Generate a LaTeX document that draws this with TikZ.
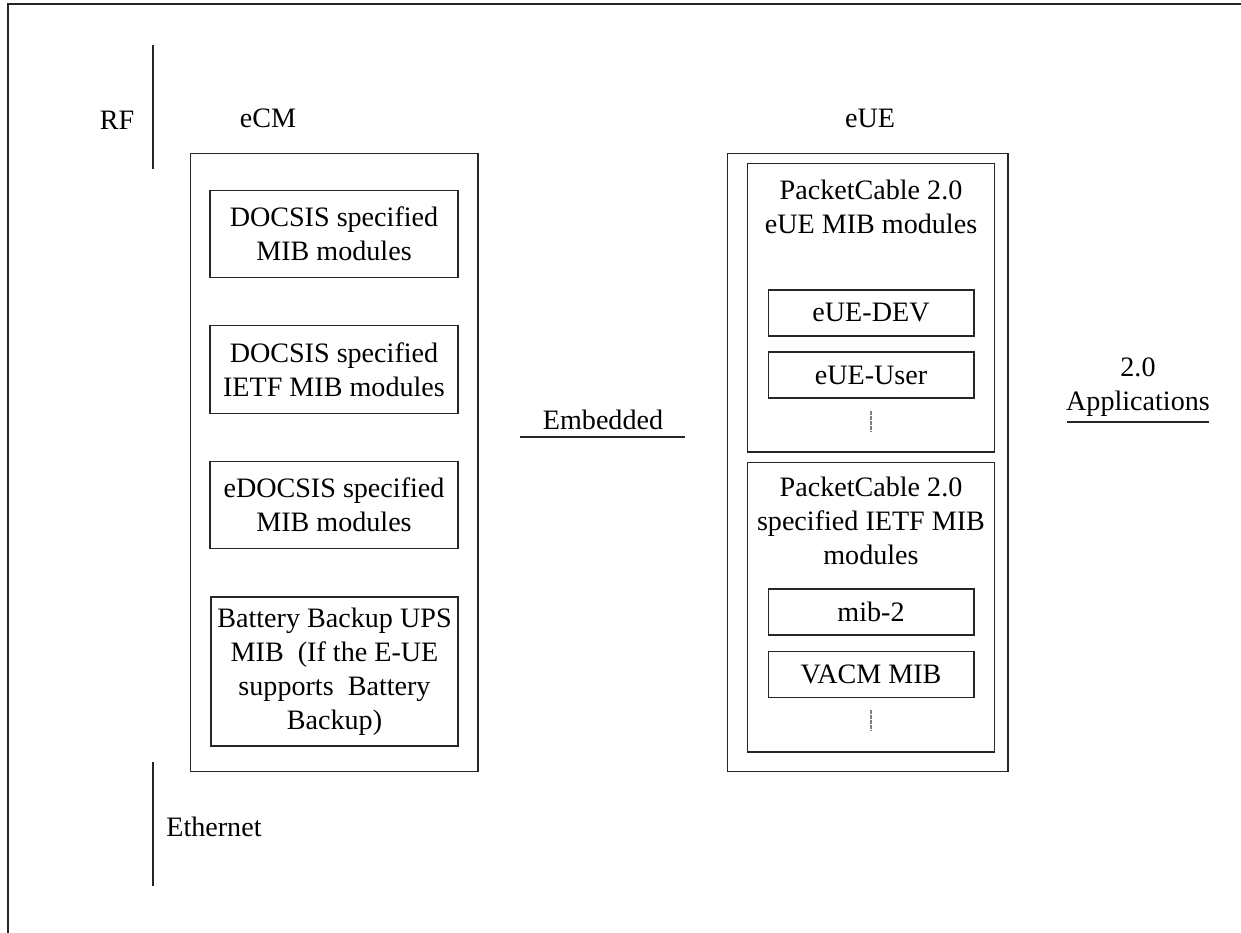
\documentclass[tikz,border=0pt]{standalone}
\usepackage{fontspec}
\setmainfont{Liberation Serif}
\usepackage{tikz}
\usetikzlibrary{arrows,shapes}
\usetikzlibrary{calc}
\tikzstyle{mibbox}=[rectangle,draw=black!85,line width=0.6pt,align=center,inner sep=0pt,font=\fontsize{16}{19.3}\selectfont]
\tikzstyle{smallbox}=[rectangle,draw=black!85,line width=0.6pt,inner sep=0pt,minimum width=4.12cm,minimum height=0.92cm,font=\fontsize{16}{19.3}\selectfont]
\tikzstyle{lbl}=[align=center,inner sep=0pt,font=\fontsize{16}{19.3}\selectfont]
\tikzstyle{rule}=[black!85,line width=0.6pt]

\begin{document}
\begin{tikzpicture}[x=0.02cm, y=-0.02cm]
   \useasboundingbox (0,0) rectangle (1241,933);
   \draw[rule] (8,933) -- (8,4) -- (1241,4);

   % side separators
   \draw[rule] (153,45) -- (153,169);
   \draw[rule] (153,762) -- (153,886);
   \node[lbl] (rf) at (117,120) {RF};
   \node[lbl,anchor=west] (eth) at (166,827) {Ethernet};

   % eCM side
   \node[lbl] (ecmlabel) at (268,118) {eCM};
   \node[mibbox,minimum width=5.76cm,minimum height=12.38cm] (ecm) at (334,462.5) {};
    \foreach \pos/ \name / \label in {{(334,234)/docsis/DOCSIS specified\\MIB modules},
                                      {(334,369.5)/ietf/DOCSIS specified\\IETF MIB modules},
                                      {(334,505)/edocsis/eDOCSIS specified\\MIB modules}}
        \node[mibbox,minimum width=4.96cm,minimum height=1.75cm] (\name) at \pos {\label};
   \node[mibbox,minimum width=4.94cm,minimum height=2.98cm] (ups) at (334.5,671.5)
        {Battery Backup UPS\\MIB\ \ (If the E-UE\\supports\ \ Battery\\Backup)};

   % middle
   \node[lbl] (embedded) at (603,420) {Embedded};
   \draw[rule] (520,437) -- (685,437);

   % eUE side
   \node[lbl] (euelabel) at (870,118) {eUE};
   \node[mibbox,minimum width=5.62cm,minimum height=12.38cm] (eue) at (867.5,462.5) {};
   \node[mibbox,minimum width=4.94cm,minimum height=5.78cm] (eueMib) at (871,307.5) {};
   \node[lbl] (eueMibTitle) at (871,207) {PacketCable 2.0\\eUE MIB modules};
   \node[mibbox,minimum width=4.94cm,minimum height=5.80cm] (ietfMib) at (871,607) {};
   \node[lbl] (ietfMibTitle) at (871,521) {PacketCable 2.0\\specified IETF MIB\\modules};

    \foreach \pos/ \name / \label in {{(871,313)/euedev/eUE-DEV}, {(871,375)/eueuser/eUE-User},
                                      {(871,612)/mibtwo/mib-2}, {(871,674.5)/vacm/VACM MIB}}
        \node[smallbox] (\name) at \pos {\label};

   \draw[gray, line width=0.6pt, dash pattern=on 1pt off 0.4pt] (871,411) -- (871,432);
   \draw[gray, line width=0.6pt, dash pattern=on 1pt off 0.4pt] (871,710) -- (871,731);

   % applications
   \node[lbl] (apps) at (1138,387) {2.0\\Applications};
   \draw[rule] (1067,422) -- (1209,422);
\end{tikzpicture}
\end{document}
